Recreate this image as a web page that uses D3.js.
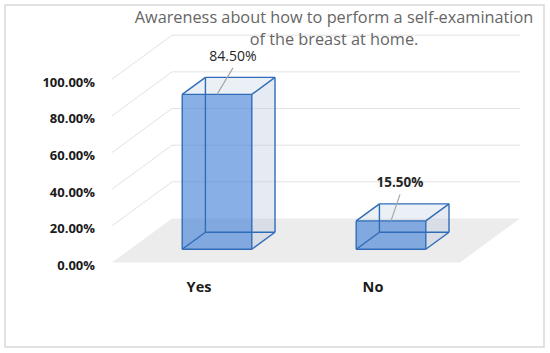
<!DOCTYPE html>
<html>
<head>
<meta charset="utf-8">
<script src="https://cdn.jsdelivr.net/npm/d3@7"></script>
<style>
  body { margin: 0; background: #fff; }
  text { font-family: "Open Sans", "Noto Sans", sans-serif; }
</style>
</head>
<body>
<script>
// data
const categories = ['Yes', 'No'];
const values = [0.845, 0.155];
const valueLabels = ['84.50%', '15.50%'];
const yTicks = [0, 0.2, 0.4, 0.6, 0.8, 1.0];
const titleLines = ['Awareness about how to perform a self-examination', 'of the breast at home.'];

// layout
const W = 550, H = 353;
const X0 = 112, PLOT_W = 348;
const DEPTH_X = 60, DEPTH_Y = 44;
const BAR_Z = [0.3, 0.687];
const labelNudge = [16, 9];
const labelWeight = [400, 700];

const svg = d3.select('body').append('svg')
  .attr('width', W)
  .attr('height', H);

// outer border
svg.append('rect')
  .attr('x', 5).attr('y', 5)
  .attr('width', 539).attr('height', 342)
  .attr('fill', '#fff')
  .attr('stroke', '#d9d9d9')
  .attr('stroke-width', 1.5);

const xScale = d3.scaleBand()
  .domain(categories)
  .range([0, PLOT_W])
  .paddingInner(0.6)
  .paddingOuter(0.3);

const yScale = d3.scaleLinear()
  .domain([0, 1])
  .range([262.5, 79.2]);

// project (x along plot, value, depth fraction) to screen
function proj(x, v, z) {
  return [X0 + x + z * DEPTH_X, yScale(v) - z * DEPTH_Y];
}

// floor
svg.append('path')
  .attr('d', d3.line()([proj(0, 0, 0), proj(PLOT_W, 0, 0), proj(PLOT_W, 0, 1), proj(0, 0, 1)]) + 'Z')
  .attr('fill', '#ececec');

// gridlines: back wall and side wall
const grid = svg.append('g').attr('stroke', '#e2e2e2').attr('stroke-width', 1).attr('fill', 'none');
yTicks.filter(d => d > 0).forEach(v => {
  grid.append('path').attr('d', d3.line()([proj(0, v, 1), proj(PLOT_W, v, 1)]));
  grid.append('path').attr('d', d3.line()([proj(0, v, 0), proj(0, v, 1)]));
});

// y axis labels
svg.append('g').selectAll('text')
  .data(yTicks)
  .enter().append('text')
  .attr('x', 95)
  .attr('y', d => yScale(d) + 2.5)
  .attr('text-anchor', 'end')
  .attr('dominant-baseline', 'central')
  .attr('font-size', 13)
  .attr('font-weight', 700)
  .attr('fill', '#1a1a1a')
  .text(d => d3.format('.2%')(d));

// bars
const bars = svg.append('g');
categories.forEach((c, i) => {
  const x1 = xScale(c), x2 = x1 + xScale.bandwidth();
  const v = values[i];
  const [zf, zb] = BAR_Z;
  const P = {
    fbl: proj(x1, 0, zf), fbr: proj(x2, 0, zf), ftl: proj(x1, v, zf), ftr: proj(x2, v, zf),
    bbl: proj(x1, 0, zb), bbr: proj(x2, 0, zb), btl: proj(x1, v, zb), btr: proj(x2, v, zb)
  };
  const poly = pts => d3.line()(pts) + 'Z';
  const g = bars.append('g');
  // right side
  g.append('path').attr('d', poly([P.fbr, P.bbr, P.btr, P.ftr]))
    .attr('fill', 'rgb(180,196,222)').attr('fill-opacity', 0.35);
  // top
  g.append('path').attr('d', poly([P.ftl, P.ftr, P.btr, P.btl]))
    .attr('fill', 'rgb(190,204,228)').attr('fill-opacity', 0.3);
  // front
  g.append('path').attr('d', poly([P.fbl, P.fbr, P.ftr, P.ftl]))
    .attr('fill', '#4a86d8').attr('fill-opacity', 0.65);
  // all edges
  const edges = [
    [P.fbl, P.fbr], [P.fbr, P.ftr], [P.ftr, P.ftl], [P.ftl, P.fbl],
    [P.bbl, P.bbr], [P.bbr, P.btr], [P.btr, P.btl], [P.btl, P.bbl],
    [P.fbl, P.bbl], [P.fbr, P.bbr], [P.ftl, P.btl], [P.ftr, P.btr]
  ];
  edges.forEach(e => {
    g.append('path').attr('d', d3.line()(e))
      .attr('fill', 'none')
      .attr('stroke', '#2e6cb8')
      .attr('stroke-width', 1.4)
      .attr('stroke-linejoin', 'round');
  });

  // data label with leader line
  const cx = (P.ftl[0] + P.ftr[0]) / 2;
  const ty = P.ftl[1];
  const lx = cx + labelNudge[i];
  const ly = ty - 33.5;
  g.append('line')
    .attr('x1', lx).attr('y1', ly + 7)
    .attr('x2', cx).attr('y2', ty)
    .attr('stroke', '#a6a6a6')
    .attr('stroke-width', 1.2);
  g.append('text')
    .attr('x', lx).attr('y', ly)
    .attr('text-anchor', 'middle')
    .attr('font-size', labelWeight[i] > 400 ? 13.5 : 14)
    .attr('font-weight', labelWeight[i])
    .attr('fill', '#262626')
    .text(valueLabels[i]);
});

// category labels
svg.append('g').selectAll('text')
  .data(categories)
  .enter().append('text')
  .attr('x', d => X0 + xScale(d) + xScale.bandwidth() / 2)
  .attr('y', 291.5)
  .attr('text-anchor', 'middle')
  .attr('font-size', 14.5)
  .attr('font-weight', 700)
  .attr('fill', '#1a1a1a')
  .text(d => d);

// title
const title = svg.append('g');
titleLines.forEach((t, i) => {
  title.append('text')
    .attr('x', 334)
    .attr('y', 23 + i * 22)
    .attr('text-anchor', 'middle')
    .attr('font-size', 16.3)
    .attr('fill', '#666666')
    .text(t);
});
</script>
</body>
</html>
